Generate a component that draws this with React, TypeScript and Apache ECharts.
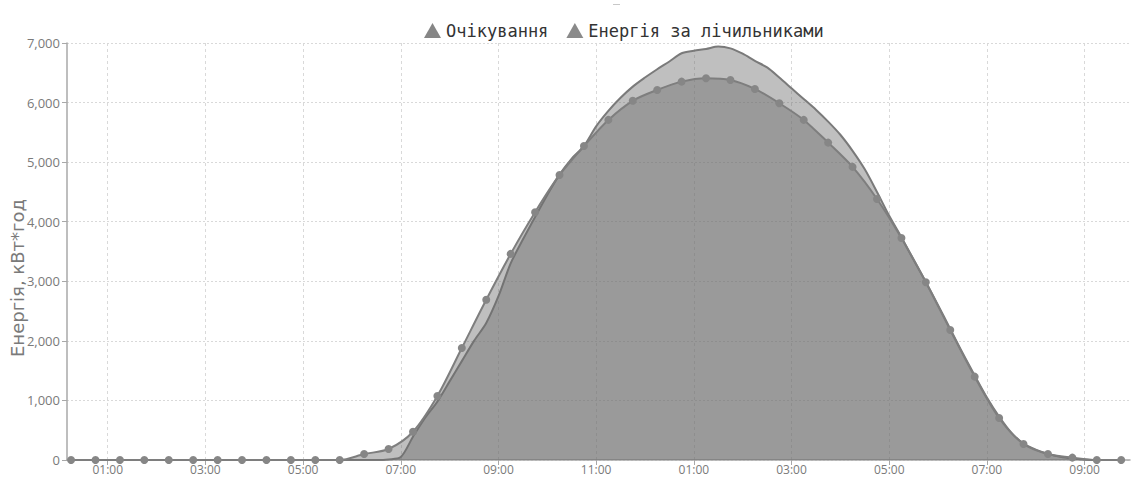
import React, { useEffect, useRef } from "react";
import * as echarts from "echarts";

// Legend names
const SERIES_EXPECTED = "Очікування";
const SERIES_METER = "Енергія за лічильниками";
const Y_AXIS_NAME = "Енергія, кВт*год";

// X tick hours (12h labels)
const TICK_HOURS = [1, 3, 5, 7, 9, 11, 13, 15, 17, 19, 21];

// Expectation: every 30 min from 00:15 to 21:45
const EXPECTED_START = 0.25;
const EXPECTED_STEP = 0.5;
const expectedValues = [
  0, 0, 0, 0, 0, 0, 0, 0, 0, 0, 0, 0, // 00:15 - 05:45
  100, 185, 475, 1075, 1880, 2690, 3460, 4160, 4785, 5270, // 06:15 - 10:45
  5709, 6030, 6212, 6352, 6409, 6380, 6229, 5989, 5709, 5328, // 11:15 - 15:45
  4920, 4382, 3727, 2985, 2183, 1399, 705, 269, 100, 40, 0, 0, // 16:15 - 21:45
];

// Meter energy: every 15 min from 00:15 to 21:45
const METER_START = 0.25;
const METER_STEP = 0.25;
const meterValues = [
  0, 0, 0, 0, 0, 0, 0, 0, 0, 0, 0, 0, // 00:15 - 03:00
  0, 0, 0, 0, 0, 0, 0, 0, 0, 0, 0, 0, // 03:15 - 06:00
  0, 0, 10, 50, 390, 710, 980, 1320, 1660, 2000, 2300, 2750, // 06:15 - 09:00
  3300, 3700, 4080, 4450, 4790, 5060, 5270, 5600, 5860, 6080, 6268, 6420, // 09:15 - 12:00
  6560, 6690, 6828, 6870, 6900, 6940, 6910, 6820, 6700, 6590, 6420, 6240, // 12:15 - 15:00
  6060, 5880, 5680, 5460, 5190, 4880, 4500, 4100, 3740, 3360, 2990, 2600, // 15:15 - 18:00
  2200, 1800, 1420, 1050, 730, 460, 275, 175, 105, 55, 25, 5, // 18:15 - 21:00
  0, 0, 0, // 21:15 - 21:45
];

const X_MIN = 0.1667;
const X_MAX = 21.93;
const Y_MAX = 7000;
const Y_STEP = 1000;

function hourLabel(h: number): string {
  const hh = Math.round(h) % 12 || 12;
  return (hh < 10 ? "0" : "") + hh + ":00";
}

export default function App() {
  const ref = useRef<HTMLDivElement>(null);

  useEffect(() => {
    if (!ref.current) return;
    const chart = echarts.init(ref.current, undefined, { renderer: "svg" });

    const expectedData = expectedValues.map((v, i) => [EXPECTED_START + i * EXPECTED_STEP, v]);
    const meterData = meterValues.map((v, i) => [METER_START + i * METER_STEP, v]);

    const areaStyle = { color: "#6a6a6a", opacity: 0.43 };
    const axisFont = "'Open Sans', sans-serif";

    chart.setOption({
      animation: false,
      backgroundColor: "#ffffff",
      legend: {
        left: 419,
        top: 17,
        itemWidth: 17,
        itemHeight: 15,
        itemGap: 18,
        icon: "triangle",
        data: [SERIES_EXPECTED, SERIES_METER],
        textStyle: {
          fontFamily: "'DejaVu Sans Mono', monospace",
          fontSize: 17,
          color: "#333333",
        },
      },
      grid: { left: 67, right: 2, top: 43, bottom: 17 },
      xAxis: {
        type: "value",
        min: X_MIN,
        max: X_MAX,
        axisLine: { show: true, lineStyle: { color: "#a8a8a8", width: 1.5 } },
        axisTick: {
          show: true,
          length: 5,
          customValues: TICK_HOURS,
          lineStyle: { color: "#a8a8a8" },
        },
        axisLabel: {
          customValues: TICK_HOURS,
          formatter: (v: number) => hourLabel(v),
          color: "#7a7a7a",
          fontFamily: axisFont,
          fontSize: 12,
          lineHeight: 12,
          margin: 3,
        },
        splitLine: {
          show: true,
          lineStyle: { color: "#d9d9d9", type: [3, 3], width: 1 },
        },
      },
      yAxis: {
        type: "value",
        min: 0,
        max: Y_MAX,
        interval: Y_STEP,
        axisLine: { show: true, lineStyle: { color: "#a8a8a8", width: 1.5 } },
        axisTick: { show: true, length: 5, lineStyle: { color: "#a8a8a8" } },
        axisLabel: {
          formatter: (v: number) => v.toLocaleString("en-US"),
          color: "#7a7a7a",
          fontFamily: axisFont,
          fontSize: 13,
          margin: 7,
        },
        splitLine: {
          show: true,
          lineStyle: { color: "#d9d9d9", type: [2, 2], width: 1 },
        },
      },
      graphic: [
        {
          type: "text",
          x: 17,
          y: 278,
          rotation: Math.PI / 2,
          style: {
            text: Y_AXIS_NAME,
            fontFamily: "'DejaVu Sans', sans-serif",
            fontSize: 18,
            fill: "#7a7a7a",
            align: "center",
            verticalAlign: "middle",
          },
        },
        {
          type: "rect",
          shape: { x: 613, y: 4, width: 7, height: 1 },
          style: { fill: "#c8c8c8" },
        },
      ],
      series: [
        {
          name: SERIES_METER,
          type: "line",
          data: meterData,
          smooth: 0.3,
          showSymbol: false,
          symbol: "none",
          lineStyle: { color: "#7a7a7a", width: 2 },
          itemStyle: { color: "#8a8a8a" },
          areaStyle,
          z: 2,
        },
        {
          name: SERIES_EXPECTED,
          type: "line",
          data: expectedData,
          smooth: 0.3,
          symbol: "circle",
          symbolSize: 8,
          lineStyle: { color: "#7e7e7e", width: 2 },
          itemStyle: { color: "#868686" },
          areaStyle,
          z: 3,
        },
      ],
    });

    return () => chart.dispose();
  }, []);

  return (
    <div
      ref={ref}
      style={{ position: "absolute", left: 0, top: 0, width: 1132, height: 477 }}
    />
  );
}
